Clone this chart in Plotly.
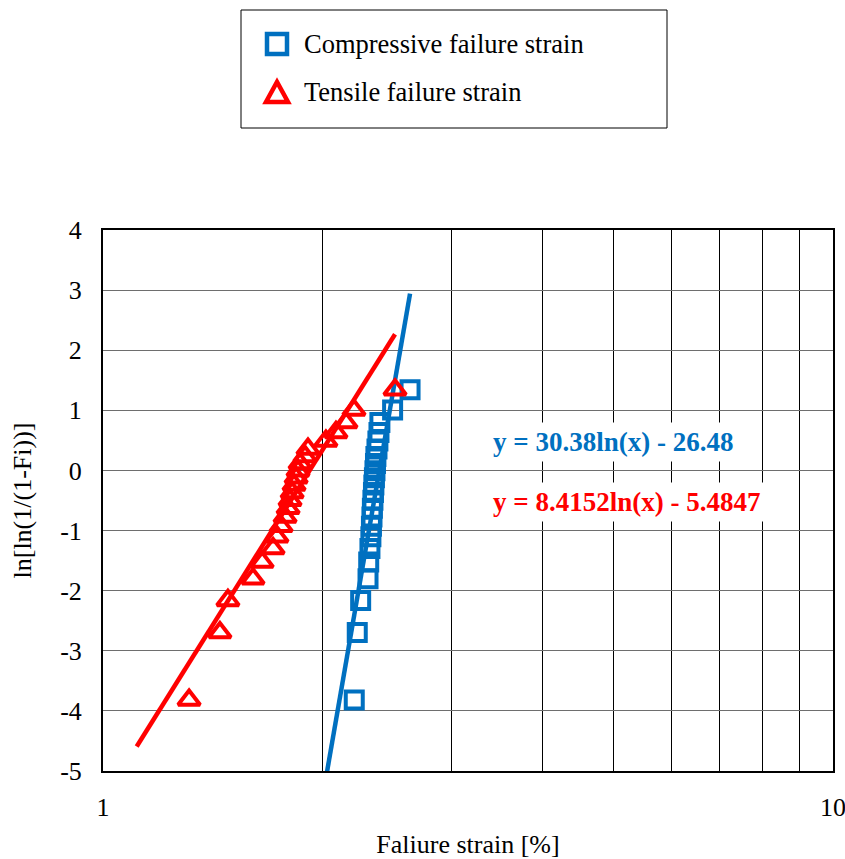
import numpy as np
import plotly.graph_objects as go

# Weibull plotting positions (ln[ln(1/(1-Fi))])
weibull_y = [-3.818, -2.697, -2.162, -1.801, -1.525, -1.297, -1.102, -0.930,
             -0.774, -0.630, -0.495, -0.367, -0.243, -0.123, -0.005, 0.114,
             0.234, 0.358, 0.490, 0.633, 0.797, 1.004, 1.343]

# Failure strains [%]
compressive_x = [2.209, 2.230, 2.254, 2.307, 2.312, 2.321, 2.328, 2.332,
                 2.336, 2.339, 2.343, 2.347, 2.350, 2.354, 2.358, 2.362,
                 2.365, 2.373, 2.380, 2.388, 2.395, 2.493, 2.634]
tensile_x = [1.312, 1.446, 1.483, 1.605, 1.652, 1.710, 1.731, 1.754,
             1.776, 1.793, 1.804, 1.816, 1.827, 1.839, 1.850, 1.862,
             1.891, 1.909, 2.020, 2.085, 2.152, 2.207, 2.512]

# Trendline coefficients (y = a ln(x) + b)
comp_a, comp_b = 30.38, -26.48
tens_a, tens_b = 8.4152, -5.4847
backcast = 0.2

series_names = ["Compressive failure strain", "Tensile failure strain"]
comp_eq = "y = 30.38ln(x) - 26.48"
tens_eq = "y = 8.4152ln(x) - 5.4847"

x_tickvals = [1, 2, 3, 4, 5, 6, 7, 8, 9, 10]
x_ticktext = ["1", "", "", "", "", "", "", "", "", "10"]
y_tickvals = [-5, -4, -3, -2, -1, 0, 1, 2, 3, 4]
y_ticktext = ["-5", "-4", "-3", "-2", "-1", "0", "1", "2", "3", "4"]

BLUE = "#0070C0"
RED = "#FF0000"
FONT = "Liberation Serif"

# plot-area geometry in pixels (for paper-coordinate helpers)
L, R, T, B = 103, 12, 230, 88
W, H = 845, 859
PW, PH = W - L - R, H - T - B


def px(x):
    return (x - L) / PW


def py(y):
    return (H - B - y) / PH


fig = go.Figure()

cx = np.linspace(min(compressive_x) - backcast, max(compressive_x), 50)
tx = np.linspace(min(tensile_x) - backcast, max(tensile_x), 50)

fig.add_trace(go.Scatter(x=cx, y=comp_a * np.log(cx) + comp_b, mode="lines",
                         line=dict(color=BLUE, width=4.5), showlegend=False,
                         hoverinfo="skip"))
fig.add_trace(go.Scatter(x=tx, y=tens_a * np.log(tx) + tens_b, mode="lines",
                         line=dict(color=RED, width=4.5), showlegend=False,
                         hoverinfo="skip"))

fig.add_trace(go.Scatter(x=compressive_x, y=weibull_y, mode="markers",
                         name=series_names[0], showlegend=False,
                         marker=dict(symbol="square-open", size=17, color=BLUE,
                                     line=dict(width=4, color=BLUE))))
fig.add_trace(go.Scatter(x=tensile_x, y=weibull_y, mode="markers",
                         name=series_names[1], showlegend=False,
                         marker=dict(symbol="triangle-up-open", size=19, color=RED,
                                     line=dict(width=4, color=RED))))

fig.add_annotation(xref="paper", yref="paper", x=px(488), y=py(442), xanchor="left",
                   yanchor="middle", text="<b>" + comp_eq + "</b>", showarrow=False,
                   font=dict(family=FONT, size=27, color=BLUE), bgcolor="white",
                   borderpad=4)
fig.add_annotation(xref="paper", yref="paper", x=px(488), y=py(502), xanchor="left",
                   yanchor="middle", text="<b>" + tens_eq + "</b>", showarrow=False,
                   font=dict(family=FONT, size=27, color=RED), bgcolor="white",
                   borderpad=4)

# legend frame, symbols and labels
fig.add_shape(type="rect", xref="paper", yref="paper",
              x0=px(241), x1=px(667), y0=py(128), y1=py(10),
              line=dict(color="black", width=1), fillcolor="white", layer="below")
fig.add_shape(type="rect", xref="paper", yref="paper", xsizemode="pixel",
              ysizemode="pixel", xanchor=px(277), yanchor=py(44),
              x0=-10, x1=10, y0=-10, y1=10,
              line=dict(color=BLUE, width=4.5), fillcolor="rgba(0,0,0,0)")
fig.add_shape(type="path", xref="paper", yref="paper", xsizemode="pixel",
              ysizemode="pixel", xanchor=px(277), yanchor=py(92),
              path="M -11 -10 L 11 -10 L 0 10 Z",
              line=dict(color=RED, width=4.5), fillcolor="rgba(0,0,0,0)")
fig.add_annotation(xref="paper", yref="paper", x=px(302), y=py(44), xanchor="left",
                   yanchor="middle", text=series_names[0], showarrow=False,
                   font=dict(family=FONT, size=26.5, color="black"))
fig.add_annotation(xref="paper", yref="paper", x=px(302), y=py(92), xanchor="left",
                   yanchor="middle", text=series_names[1], showarrow=False,
                   font=dict(family=FONT, size=26.5, color="black"))

fig.update_layout(
    width=W, height=H,
    margin=dict(l=L, r=R, t=T, b=B),
    paper_bgcolor="white", plot_bgcolor="white",
    font=dict(family=FONT, size=26, color="black"),
    showlegend=False,
    xaxis=dict(type="log", range=[0, 1], tickmode="array", tickvals=x_tickvals,
               ticktext=x_ticktext, showgrid=True, gridcolor="black", gridwidth=1,
               showline=True, linecolor="black", linewidth=2, mirror=True,
               ticks="outside", ticklen=12, tickcolor="rgba(0,0,0,0)",
               ticklabeloverflow="allow",
               zeroline=False, automargin=False,
               title=dict(text="Faliure strain [%]", standoff=20,
                          font=dict(family=FONT, size=26))),
    yaxis=dict(range=[-5, 4], tickmode="array", tickvals=y_tickvals,
               ticktext=y_ticktext,
               showgrid=True, gridcolor="#6e6e6e", gridwidth=1,
               showline=True, linecolor="black", linewidth=2, mirror=True,
               ticks="outside", ticklen=14, tickcolor="rgba(0,0,0,0)",
               zeroline=False, automargin=False,
               title=dict(text="ln[ln(1/(1-Fi))]", standoff=21,
                          font=dict(family=FONT, size=26))),
)

fig.write_html("out.html")
